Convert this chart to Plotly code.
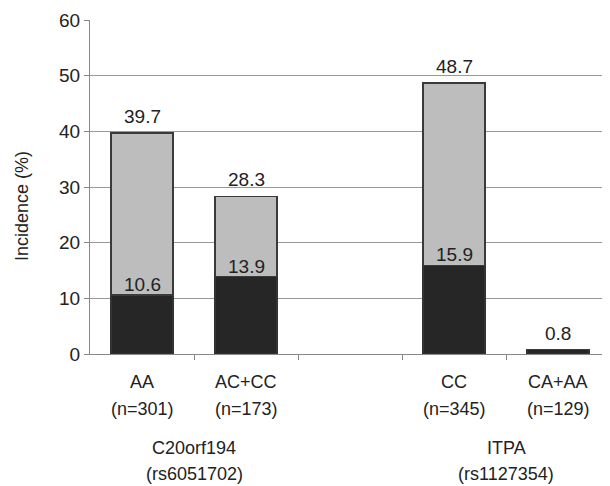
import plotly.graph_objects as go

genotypes = ["AA", "AC+CC", "", "CC", "CA+AA"]
sample_sizes = ["(n=301)", "(n=173)", "", "(n=345)", "(n=129)"]
positions = [0, 1, 2, 3, 4]
dark_values = [10.6, 13.9, None, 15.9, 0.8]
total_values = [39.7, 28.3, None, 48.7, 0.8]
group_names = ["C20orf194", "ITPA"]
group_snps = ["(rs6051702)", "(rs1127354)"]
group_centers = [0.5, 3.5]
y_ticks = [0, 10, 20, 30, 40, 50, 60]

grey_values = [None if t is None else round(t - d, 1) for t, d in zip(total_values, dark_values)]

FONT = "Liberation Sans, Arial, sans-serif"
TXT = "#222222"
NUM_FS = 19
LAB_FS = 18

# page body has an 8px default margin, compensate for it
L, T, B, R = 82, 12, 140, 8
PW = 610 - L - R
PH = 486 - T - B

fig = go.Figure()
fig.add_trace(go.Bar(x=positions, y=dark_values, width=0.6,
                     marker=dict(color="#262626", line=dict(color="#333333", width=1.5)),
                     hoverinfo="skip"))
fig.add_trace(go.Bar(x=positions, y=grey_values, width=0.6,
                     marker=dict(color="#bdbdbd", line=dict(color="#3a3a3a", width=1.5)),
                     hoverinfo="skip"))

for x, t, d in zip(positions, total_values, dark_values):
    if t is None:
        continue
    fig.add_annotation(x=x, y=t, text=f"{t}", showarrow=False, yanchor="bottom",
                       yshift=4, font=dict(size=NUM_FS, color=TXT, family=FONT))
    if d is not None and t - d > 3:
        fig.add_annotation(x=x, y=d, text=f"{d}", showarrow=False, yanchor="bottom",
                           yshift=-2, font=dict(size=NUM_FS, color=TXT, family=FONT))

# category labels (two lines) under the axis
for x, g, n in zip(positions, genotypes, sample_sizes):
    if not g:
        continue
    fig.add_annotation(x=x, xref="x", y=0, yref="paper", yanchor="middle", yshift=-28,
                       text=g, showarrow=False, font=dict(size=LAB_FS, color=TXT, family=FONT))
    fig.add_annotation(x=x, xref="x", y=0, yref="paper", yanchor="middle", yshift=-55,
                       text=n, showarrow=False, font=dict(size=LAB_FS, color=TXT, family=FONT))

for gx, gn, gs in zip(group_centers, group_names, group_snps):
    fig.add_annotation(x=gx, xref="x", y=0, yref="paper", yanchor="middle", yshift=-94,
                       text=gn, showarrow=False, font=dict(size=LAB_FS, color=TXT, family=FONT))
    fig.add_annotation(x=gx, xref="x", y=0, yref="paper", yanchor="middle", yshift=-120,
                       text=gs, showarrow=False, font=dict(size=LAB_FS, color=TXT, family=FONT))

# y-axis title
fig.add_annotation(x=(14 - L) / PW, xref="paper", xanchor="center",
                   y=(346 - 198) / PH, yref="paper",
                   yanchor="middle", text="Incidence (%)", textangle=-90, showarrow=False,
                   font=dict(size=LAB_FS, color=TXT, family=FONT))

fig.update_layout(
    width=610, height=486,
    barmode="stack", showlegend=False,
    plot_bgcolor="white", paper_bgcolor="white",
    margin=dict(l=L, r=R, t=T, b=B, autoexpand=False),
    font=dict(family=FONT, size=NUM_FS, color=TXT),
    xaxis=dict(range=[-0.5, 4.5], tickmode="array", tickvals=positions,
               ticktext=[""] * len(positions), automargin=False,
               ticks="", showgrid=False, zeroline=False, showline=True, linecolor="#888888",
               linewidth=1,
               minor=dict(tickmode="array", tickvals=[0.5, 1.5, 2.5, 3.5], ticks="outside",
                          ticklen=5, tickcolor="#888888", showgrid=False)),
    yaxis=dict(range=[0, 60], tickmode="array", tickvals=y_ticks, ticks="outside",
               ticklen=5, tickcolor="#888888", showgrid=True, gridcolor="#999999", gridwidth=1,
               zeroline=False, showline=True, linecolor="#888888", linewidth=1,
               automargin=False, tickfont=dict(size=NUM_FS, color=TXT)),
)

fig.write_html("out.html")
